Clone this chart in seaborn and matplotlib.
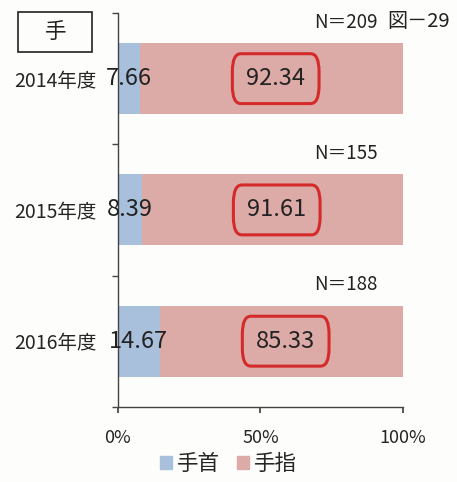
import numpy as np
import pandas as pd
import matplotlib
matplotlib.use("Agg")
import matplotlib.pyplot as plt
import seaborn as sns
from matplotlib.patches import FancyBboxPatch, Rectangle

years = ["2014年度", "2015年度", "2016年度"]
wrist = [7.66, 8.39, 14.67]    # 手首
finger = [92.34, 91.61, 85.33]  # 手指
n_labels = ["N＝209", "N＝155", "N＝188"]
series_names = ["手首", "手指"]
colors = ["#a9c0dc", "#dcaaa7"]

sns.set_theme(style="white")
plt.rcParams["font.family"] = ["Noto Sans CJK JP", "DejaVu Sans"]

df = pd.DataFrame({"year": years, "wrist": wrist, "finger": finger})
df["total"] = df["wrist"] + df["finger"]

fig = plt.figure(figsize=(4.57, 4.82), dpi=100)
fig.patch.set_facecolor("#fdfdfc")
ax = fig.add_axes([0.258, 0.156, 0.624, 0.817])
ax.set_facecolor("#fdfdfc")

sns.barplot(data=df, y="year", x="total", color=colors[1], orient="h",
            width=0.54, saturation=1, ax=ax)
sns.barplot(data=df, y="year", x="wrist", color=colors[0], orient="h",
            width=0.54, saturation=1, ax=ax)
for p in ax.patches:
    p.set_edgecolor("none")
if ax.get_legend() is not None:
    ax.get_legend().remove()

ax.set_xlim(0, 100)
ax.set_ylim(2.5, -0.5)
ax.set_xticks([0, 50, 100])
ax.set_xticklabels(["0%", "50%", "100%"], fontsize=13)
ax.set_yticks([0, 1, 2])
ax.set_yticklabels(years, fontsize=14)
ax.tick_params(axis="y", length=0, pad=15)
ax.set_yticks([-0.5, 0.5, 1.5, 2.5], minor=True)
ax.tick_params(axis="y", which="minor", length=4, color="#444444", left=True)
ax.tick_params(axis="x", length=4, color="#444444", bottom=True, pad=12)
ax.set_xlabel("")
ax.set_ylabel("")
for s in ["top", "right"]:
    ax.spines[s].set_visible(False)
for s in ["left", "bottom"]:
    ax.spines[s].set_color("#444444")
    ax.spines[s].set_linewidth(1.0)

for i in range(len(years)):
    ax.text(wrist[i] / 2, i, f"{wrist[i]:.2f}", ha="center", va="center",
            fontsize=17, color="#222222")
    cx = wrist[i] + finger[i] / 2 + 1.5
    ax.text(cx, i, f"{finger[i]:.2f}", ha="center", va="center",
            fontsize=17, color="#222222")
    box = FancyBboxPatch((cx - 15.2, i - 0.19), 30.4, 0.38,
                         boxstyle="round,pad=0,rounding_size=3",
                         fill=False, edgecolor="#d42a2a", linewidth=2.2,
                         mutation_aspect=0.045)
    ax.add_patch(box)
    ax.text(91, i - 0.43, n_labels[i], ha="right", va="center",
            fontsize=13.5, color="#222222")

fig.text(0.985, 0.955, "図－29", ha="right", va="center", fontsize=14.5, color="#222222")
fig.patches.append(Rectangle((0.04, 0.893), 0.162, 0.082, transform=fig.transFigure,
                             fill=False, edgecolor="#222222", linewidth=1.2))
fig.text(0.121, 0.934, "手", ha="center", va="center", fontsize=15.5, color="#222222")

handles = [Rectangle((0, 0), 1, 1, color=c) for c in colors]
fig.legend(handles, series_names, loc="center", bbox_to_anchor=(0.5, 0.038),
           ncol=2, frameon=False, fontsize=15.5, handlelength=0.55, handleheight=0.55,
           handletextpad=0.25, columnspacing=0.8)

fig.savefig("out.png", dpi=100, facecolor=fig.get_facecolor())
